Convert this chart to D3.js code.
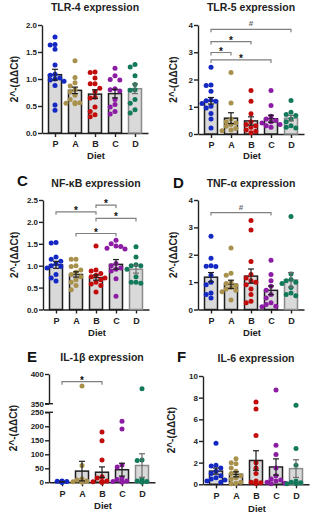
<!DOCTYPE html>
<html>
<head>
<meta charset="utf-8">
<script src="https://cdn.jsdelivr.net/npm/d3@7"></script>
<style>
  body { margin: 0; background: #fff; }
  svg text { font-family: "Liberation Sans", Arial, sans-serif; font-weight: bold; }
</style>
</head>
<body>
<div id="chart"></div>
<script>
// diets and their dot colours
const diets = ["P", "A", "B", "C", "D"];
const dietColors = ["#1428c4", "#a8914c", "#c20c0c", "#8c1ca3", "#12795a"];

// TLR-4
const tlr4Points = [
    [1.78, 1.64, 1.63, 1.55, 1.26, 1.09, 1.07, 1.02, 1.00, 0.98, 0.96, 0.88, 0.52, 0.42],
    [1.34, 1.03, 0.93, 0.87, 0.80, 0.76, 0.70, 0.62, 0.56, 0.55, 0.54, 0.56],
    [1.13, 1.12, 1.02, 0.91, 0.91, 0.83, 0.77, 0.66, 0.65, 0.48, 0.40, 0.34, 0.30],
    [1.20, 1.06, 0.99, 0.98, 0.82, 0.80, 0.78, 0.62, 0.53, 0.48, 0.40, 0.35],
    [1.27, 1.22, 1.06, 0.90, 0.80, 0.79, 0.62, 0.55, 0.43, 0.37]
];
const tlr4Mean = [1.08, 0.79, 0.72, 0.73, 0.82];
const tlr4Sem = [0.10, 0.06, 0.08, 0.08, 0.09];

// TLR-5
const tlr5Points = [
    [2.45, 1.80, 1.78, 1.57, 1.25, 1.22, 1.20, 1.12, 1.02, 0.95, 0.75, 0.55, 0.22],
    [2.26, 1.14, 0.55, 0.45, 0.40, 0.35, 0.28, 0.20, 0.15, 0.12],
    [1.60, 1.20, 0.74, 0.45, 0.35, 0.30, 0.25, 0.15, 0.10, 0.05],
    [1.60, 1.05, 0.65, 0.55, 0.50, 0.45, 0.40, 0.35, 0.30, 0.25],
    [1.23, 0.80, 0.72, 0.68, 0.55, 0.45, 0.30, 0.25, 0.22]
];
const tlr5Mean = [1.22, 0.58, 0.48, 0.56, 0.58];
const tlr5Sem = [0.12, 0.20, 0.15, 0.13, 0.10];
const tlr5Sig = [["P", "D", 3.84, "#"], ["P", "B", 3.39, "*"], ["P", "A", 2.99, "*"], ["P", "C", 2.72, "*"]];

// NF-kB
const nfkbPoints = [
    [1.53, 1.52, 1.20, 1.15, 1.10, 1.05, 1.00, 0.98, 0.95, 0.80, 0.72, 0.65],
    [1.15, 1.15, 1.00, 0.98, 0.90, 0.85, 0.80, 0.75, 0.68, 0.62, 0.55, 0.45],
    [1.45, 0.90, 0.88, 0.82, 0.78, 0.75, 0.72, 0.68, 0.62, 0.58, 0.55, 0.40],
    [1.58, 1.50, 1.45, 1.44, 1.40, 1.38, 1.05, 1.00, 0.95, 0.92, 0.88, 0.70, 0.30],
    [1.43, 1.20, 1.02, 1.00, 1.00, 0.92, 0.75, 0.62, 0.62, 0.60]
];
const nfkbMean = [1.02, 0.80, 0.73, 1.03, 0.92];
const nfkbSem = [0.08, 0.06, 0.06, 0.11, 0.09];
const nfkbSig = [["B", "C", 2.385, "*"], ["P", "B", 2.23, "*"], ["B", "D", 2.08, "*"], ["A", "C", 1.735, "*"]];

// TNF-a
const tnfPoints = [
    [2.68, 1.87, 1.60, 1.58, 1.57, 1.25, 1.00, 0.90, 0.60, 0.55, 0.42],
    [2.25, 1.32, 1.25, 1.00, 0.95, 0.88, 0.80, 0.75, 0.70, 0.65, 0.35],
    [3.25, 2.90, 1.75, 1.28, 1.15, 1.05, 1.00, 0.90, 0.75, 0.55, 0.30, 0.25],
    [1.80, 1.28, 1.05, 0.85, 0.70, 0.55, 0.42, 0.25, 0.18, 0.12, 0.10],
    [3.40, 1.30, 1.10, 1.05, 1.00, 0.95, 0.80, 0.60, 0.55, 0.50]
];
const tnfMean = [1.18, 0.92, 1.22, 0.70, 1.08];
const tnfSem = [0.17, 0.15, 0.26, 0.16, 0.27];
const tnfSig = [["P", "C", 3.54, "#"]];

// IL-1b
const il1bPoints = [
    [5, 4, 3, 3, 2, 2, 1, 1, 1, 0.5],
    [380, 60, 12, 8, 5, 3, 2, 2, 1, 1],
    [180, 148, 80, 20, 15, 5, 3, 2, 1, 1, 0.5],
    [218, 190, 62, 55, 15, 10, 5, 3, 2, 1, 1],
    [375, 80, 78, 10, 5, 3, 2, 1, 1]
];
const il1bMean = [2, 40, 36, 45, 60];
const il1bSem = [0.5, 35, 19, 23, 42];
const il1bSig = [["P", "B", 387, "*"]];

// IL-6
const il6Points = [
    [3.8, 1.75, 1.7, 1.5, 1.2, 1.0, 0.8, 0.6, 0.5, 0.4, 0.3, 0.2],
    [2.35, 2.0, 1.9, 1.5, 1.2, 1.0, 0.8, 0.6, 0.5, 0.2, 0.1, 0.05],
    [7.6, 6.95, 4.5, 2.0, 1.5, 1.0, 0.3, 0.2, 0.15, 0.1, 0.1],
    [8.7, 3.6, 2.75, 1.5, 0.8, 0.5, 0.4, 0.3, 0.2, 0.1, 0.05],
    [7.3, 3.3, 1.75, 0.3, 0.2, 0.15, 0.1, 0.1, 0.05]
];
const il6Mean = [1.22, 0.92, 2.2, 1.6, 1.45];
const il6Sem = [0.28, 0.23, 0.9, 0.75, 0.82];

const W = 313, H = 514;
const svg = d3.select("#chart").append("svg")
    .attr("width", W)
    .attr("height", H);

const AXIS = "#222";
const SIG = "#808080";
const R = 2.5;

const panels = [
    {title: "TLR-4 expression", ax: 42, yTop: 25, yBot: 133, domain: [0, 2], ticks: [0, 0.5, 1, 1.5, 2], fmt: ".1f",
     points: tlr4Points, mean: tlr4Mean, sem: tlr4Sem, sig: [], titleY: 11, catY: 148, dietY: 159, ylabX: 14},
    {title: "TLR-5 expression", ax: 198, yTop: 25, yBot: 134, domain: [0, 4], ticks: [0, 1, 2, 3, 4], fmt: "d",
     points: tlr5Points, mean: tlr5Mean, sem: tlr5Sem, sig: tlr5Sig, titleY: 11, catY: 148, dietY: 159, ylabX: 173},
    {title: "NF-\u03BAB expression", letter: "C", lx: 17, ly: 186, ax: 43, yTop: 200, yBot: 309.5, domain: [0, 2.5],
     ticks: [0, 0.5, 1, 1.5, 2, 2.5], fmt: ".1f",
     points: nfkbPoints, mean: nfkbMean, sem: nfkbSem, sig: nfkbSig, titleY: 187, catY: 323, dietY: 336, ylabX: 14},
    {title: "TNF-\u03B1 expression", letter: "D", lx: 173, ly: 188, ax: 198, yTop: 200, yBot: 309.5, domain: [0, 4],
     ticks: [0, 1, 2, 3, 4], fmt: "d",
     points: tnfPoints, mean: tnfMean, sem: tnfSem, sig: tnfSig, titleY: 187, catY: 323, dietY: 336, ylabX: 173},
    {title: "IL-1\u03B2 expression", letter: "E", lx: 27, ly: 362, ax: 49, broken: true,
     points: il1bPoints, mean: il1bMean, sem: il1bSem, sig: il1bSig, titleY: 361, catY: 495, dietY: 509, ylabX: 13},
    {title: "IL-6 expression", letter: "F", lx: 177, ly: 362, ax: 203, yTop: 376, yBot: 484.3, domain: [0, 10],
     ticks: [0, 2, 4, 6, 8, 10], fmt: "d",
     points: il6Points, mean: il6Mean, sem: il6Sem, sig: [], titleY: 362, catY: 498, dietY: 512, ylabX: 171}
];

panels.forEach(drawPanel);

function styleAxis(g) {
    g.selectAll("path, line").attr("stroke", AXIS).attr("stroke-width", 1.4);
    g.selectAll("text").style("font-size", "8px").attr("fill", AXIS);
}

function drawPanel(p) {
    let g = svg.append("g");
    let x = d3.scalePoint().domain(diets).range([p.ax, p.ax + 106]).padding(0.65);
    let y, yBase;

    if (p.broken) {
        // broken y axis: 0-250 below, 350-400 above
        let yLow = d3.scaleLinear().domain([0, 250]).range([482.3, 412.3]);
        let yHigh = d3.scaleLinear().domain([350, 400]).range([403.7, 374]);
        y = v => v >= 300 ? yHigh(v) : yLow(v);
        yBase = yLow(0);
        g.append("g").attr("transform", `translate(${p.ax},0)`)
            .call(d3.axisLeft(yLow).tickValues([0, 50, 100, 150, 200, 250]).tickSize(4).tickSizeOuter(0).tickPadding(1))
            .call(styleAxis);
        g.append("g").attr("transform", `translate(${p.ax},0)`)
            .call(d3.axisLeft(yHigh).tickValues([350, 400]).tickSize(4).tickSizeOuter(0).tickPadding(1))
            .call(styleAxis);
        // break marks
        [yLow(250), yHigh(350)].forEach(v => {
            g.append("line").attr("x1", p.ax - 4).attr("x2", p.ax + 4)
                .attr("y1", v).attr("y2", v).attr("stroke", AXIS).attr("stroke-width", 1.4);
        });
    } else {
        y = d3.scaleLinear().domain(p.domain).range([p.yBot, p.yTop]);
        yBase = p.yBot;
        g.append("g").attr("transform", `translate(${p.ax},0)`)
            .call(d3.axisLeft(y).tickValues(p.ticks).tickFormat(d3.format(p.fmt)).tickSize(4).tickSizeOuter(0).tickPadding(1))
            .call(styleAxis);
    }

    // x axis
    let xa = g.append("g").attr("transform", `translate(0,${yBase})`)
        .call(d3.axisBottom(x).tickSize(4).tickSizeOuter(0).tickPadding(4))
        .call(styleAxis);
    xa.selectAll("text").style("font-size", "9px");

    // bars
    g.selectAll("rect.bar").data(p.mean).enter()
        .append("rect")
        .attr("class", "bar")
        .attr("x", (d, i) => x(diets[i]) - 6.5)
        .attr("width", 13)
        .attr("y", d => y(d))
        .attr("height", d => yBase - y(d))
        .attr("fill", "#d9d9d9")
        .attr("stroke", (d, i) => i === 4 ? "#8a8a8a" : "#1e1e1e")
        .attr("stroke-width", 1.5);

    // dots, spread sideways so they do not overlap
    p.points.forEach((vals, i) => {
        let cx = x(diets[i]);
        let placed = [];
        let sorted = vals.slice().sort((a, b) => b - a);
        sorted.forEach(v => {
            let py = y(v);
            let offs = [0, -4.8, 4.8, -9, 9, -2.4, 2.4, -6.9, 6.9];
            let ox = offs.find(o => placed.every(q => Math.hypot(q[0] - (cx + o), q[1] - py) >= 2 * R * 0.9));
            if (ox === undefined) ox = 0;
            placed.push([cx + ox, py]);
        });
        g.append("g").selectAll("circle").data(placed).enter()
            .append("circle")
            .attr("cx", d => d[0])
            .attr("cy", d => d[1])
            .attr("r", R)
            .attr("fill", dietColors[i]);
    });

    // error bars (mean +/- sem)
    p.mean.forEach((m, i) => {
        let cx = x(diets[i]);
        let lo = Math.max(0, m - p.sem[i]), hi = m + p.sem[i];
        let col = i === 4 ? "#6a6a6a" : "#1e1e1e";
        g.append("line").attr("x1", cx).attr("x2", cx).attr("y1", y(lo)).attr("y2", y(hi))
            .attr("stroke", col).attr("stroke-width", 1.2);
        [lo, hi].forEach(v => {
            g.append("line").attr("x1", cx - 3).attr("x2", cx + 3).attr("y1", y(v)).attr("y2", y(v))
                .attr("stroke", col).attr("stroke-width", 1.2);
        });
    });

    // significance brackets
    p.sig.forEach(s => {
        let x1 = x(s[0]), x2 = x(s[1]), yy = y(s[2]);
        g.append("path")
            .attr("d", `M${x1},${yy + 3}V${yy}H${x2}V${yy + 3}`)
            .attr("fill", "none").attr("stroke", SIG).attr("stroke-width", 1.2);
        g.append("text")
            .attr("x", (x1 + x2) / 2)
            .attr("y", s[3] === "#" ? yy - 3 : yy + 2)
            .attr("text-anchor", "middle")
            .style("font-size", s[3] === "#" ? "8px" : "10px")
            .attr("fill", s[3] === "#" ? "#666" : "#111")
            .text(s[3]);
    });

    // title
    g.append("text")
        .attr("x", p.ax + 53).attr("y", p.titleY)
        .attr("text-anchor", "middle")
        .style("font-size", "10.5px")
        .attr("fill", "#222")
        .text(p.title);

    // panel letter
    if (p.letter) {
        g.append("text")
            .attr("x", p.lx).attr("y", p.ly)
            .style("font-size", "15px")
            .attr("fill", "#111")
            .text(p.letter);
    }

    // axis labels
    g.append("text")
        .attr("x", p.ax + 54).attr("y", p.dietY)
        .attr("text-anchor", "middle")
        .style("font-size", "9.5px")
        .attr("fill", "#222")
        .text("Diet");

    let yMid = p.broken ? 428 : (p.yTop + p.yBot) / 2;
    g.append("text")
        .attr("transform", `translate(${p.ylabX + 3.5},${yMid}) rotate(-90)`)
        .attr("text-anchor", "middle")
        .style("font-size", "10px")
        .attr("fill", "#222")
        .text("2^-(\u0394\u0394Ct)");
}
</script>
</body>
</html>
